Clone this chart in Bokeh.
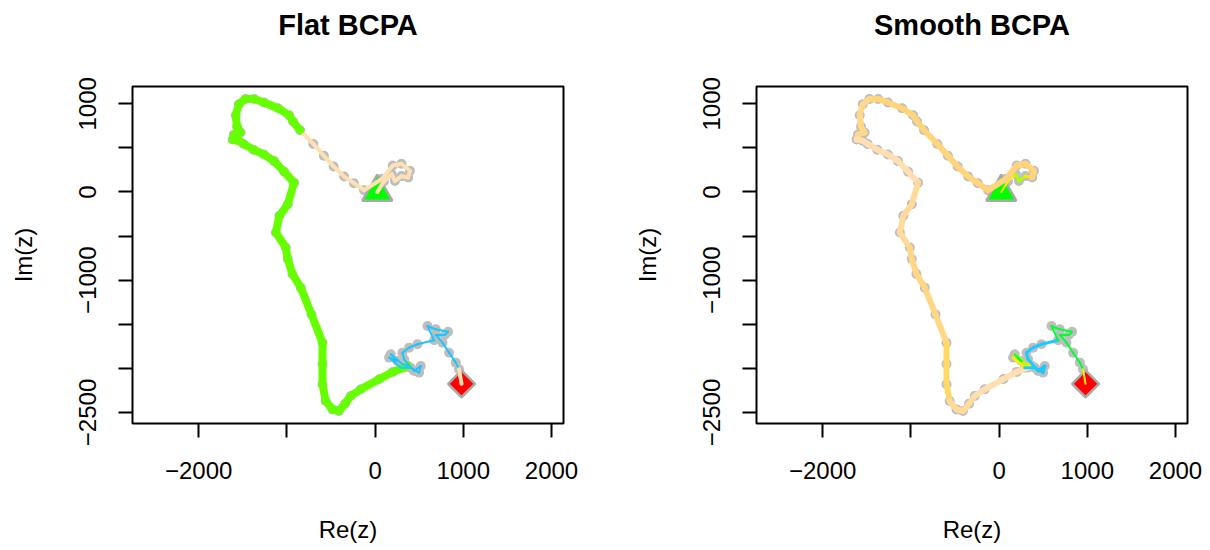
import math
from bokeh.plotting import figure
from bokeh.layouts import row
from bokeh.models import Range1d, FixedTicker, ColumnDataSource, Title
from bokeh.embed import file_html
from bokeh.resources import INLINE

# ---- track locations (Re(z), Im(z)) ----
path_x = [25, 100, 190, 225, 300, 375, 395, 300, 200, 80,
          -125, -240, -350, -470, -580, -700, -850, -930, -975, -1100,
          -1260, -1370, -1470, -1545, -1580, -1565, -1525, -1600, -1615, -1545,
          -1490, -1380, -1260, -1145, -1030, -918, -990, -1085, -1125, -1012,
          -990, -937, -842, -720, -596, -596, -596, -560, -483, -410,
          -340, -276, -162, 50, 200, 330, 370, 310, 178, 254,
          159, 291, 405, 499, 518, 442, 329, 310, 386, 480,
          669, 594, 688, 828, 790, 688, 764, 839, 915, 952,
          980]
path_y = [0, 120, 200, 125, 180, 165, 240, 320, 300, 150,
          20, 100, 175, 290, 410, 545, 700, 800, 870, 950,
          1015, 1055, 1055, 995, 870, 740, 675, 650, 595, 580,
          545, 480, 425, 350, 230, 105, -140, -270, -460, -630,
          -760, -930, -1085, -1390, -1710, -1950, -2180, -2370, -2465, -2483,
          -2400, -2313, -2237, -2120, -2040, -1990, -1970, -1954, -1840, -1916,
          -1878, -1992, -1992, -2048, -1973, -2029, -1897, -1822, -1765, -1727,
          -1682, -1519, -1557, -1584, -1621, -1621, -1708, -1822, -1935, -2010,
          -2175]

# ---- phases (segment runs) ----
flat_runs = [("tan", 16), ("green", 40), ("blue", 23), ("tan", 1)]
smooth_runs = [("yellow_thin", 2), ("yellowgreen", 2), ("yellow", 1), ("gold", 17),
               ("gold2", 6), ("peach", 7), ("gold3", 4), ("gold4", 5), ("gold5", 3),
               ("gold3", 4), ("peach", 5), ("yellow", 1), ("yellowgreen", 1),
               ("green", 2), ("yellow", 1), ("blue", 9), ("green", 9), ("yellow_thin", 1)]

titles = ["Flat BCPA", "Smooth BCPA"]
x_ticks = [-2000, -1000, 0, 1000, 2000]
x_tick_labels = ["\u22122000", "", "0", "1000", "2000"]
y_ticks = [-2500, -2000, -1500, -1000, -500, 0, 500, 1000]
y_tick_labels = ["\u22122500", "", "", "\u22121000", "", "0", "", "1000"]

# ---- styles ----
flat_style = {"tan": ("#FFE0B3", 4), "green": ("#66FF00", 8), "blue": ("#1AC6FF", 2)}
smooth_style = {"yellow_thin": ("#FFEE00", 2), "yellowgreen": ("#B3FF00", 3),
                "yellow": ("#FFEA00", 3), "gold": ("#FFD47A", 6), "gold2": ("#FFD88A", 6),
                "peach": ("#FFDEB2", 6), "gold3": ("#FFDA9A", 6), "gold4": ("#FFD785", 6),
                "gold5": ("#FFD966", 6), "green": ("#00FF33", 2), "blue": ("#1ACBFF", 3)}

FONT = "Liberation Sans"
FRAME_W, FRAME_H = 431, 337


def expand(runs, style):
    cols, wids = [], []
    for name, n in runs:
        c, w = style[name]
        cols += [c] * n
        wids += [w] * n
    return cols, wids


def make(title, runs, style, bl, br):
    p = figure(width=bl + FRAME_W + br, height=550, x_range=Range1d(-2750, 2136),
               y_range=Range1d(-2625, 1196), output_backend="svg",
               toolbar_location=None, min_border_left=bl, min_border_right=br,
               min_border_top=86, min_border_bottom=127)
    p.grid.visible = False
    p.outline_line_color = "black"
    p.outline_line_width = 2
    p.background_fill_color = "white"
    p.border_fill_color = "white"

    t = Title(text=title, align="center", vertical_align="bottom", standoff=0,
              text_font=FONT, text_font_size="29px", text_font_style="bold",
              text_color="black", padding=dict(left=0, right=0, top=0, bottom=46))
    p.add_layout(t, "above")

    for ax in (p.xaxis[0], p.yaxis[0]):
        ax.axis_line_color = None
        ax.major_tick_line_width = 2
        ax.major_tick_line_color = "black"
        ax.major_tick_in = 0
        ax.major_tick_out = 14
        ax.minor_tick_line_color = None
        ax.major_label_text_font = FONT
        ax.major_label_text_font_size = "24px"
        ax.major_label_text_color = "black"
        ax.axis_label_text_font = FONT
        ax.axis_label_text_font_size = "24px"
        ax.axis_label_text_font_style = "normal"
        ax.axis_label_text_color = "black"

    p.xaxis.ticker = FixedTicker(ticks=x_ticks)
    p.xaxis.major_label_overrides = dict(zip(x_ticks, x_tick_labels))
    p.xaxis.axis_label = "Re(z)"
    p.xaxis.major_label_standoff = 24
    p.xaxis.axis_label_standoff = 34

    p.yaxis.ticker = FixedTicker(ticks=y_ticks)
    p.yaxis.major_label_overrides = dict(zip(y_ticks, y_tick_labels))
    p.yaxis.major_label_orientation = "vertical"
    p.yaxis.axis_label = "Im(z)"
    p.yaxis.major_label_standoff = 22
    p.yaxis.axis_label_standoff = 40

    # grey location dots
    p.scatter(path_x, path_y, size=10, marker="circle", fill_color="#BEBEBE",
              line_color=None)
    # start and end markers
    p.scatter([path_x[0]], [path_y[0]], marker="triangle", size=30,
              fill_color="#00FF00", line_color="#A9A9A9", line_width=2.5)
    p.scatter([path_x[-1]], [path_y[-1]], marker="square", angle=math.pi / 4,
              size=19, fill_color="#FF0000", line_color="#A9A9A9", line_width=2.5)

    cols, wids = expand(runs, style)
    src = ColumnDataSource(dict(x0=path_x[:-1], y0=path_y[:-1], x1=path_x[1:],
                                y1=path_y[1:], c=cols, w=wids))
    p.segment("x0", "y0", "x1", "y1", source=src, line_color="c", line_width="w",
              line_cap="round")
    return p


p1 = make(titles[0], flat_runs, flat_style, 132, 42)
p2 = make(titles[1], smooth_runs, smooth_style, 151, 23)
layout = row(p1, p2)

open("out.html", "w").write(file_html(layout, INLINE))
